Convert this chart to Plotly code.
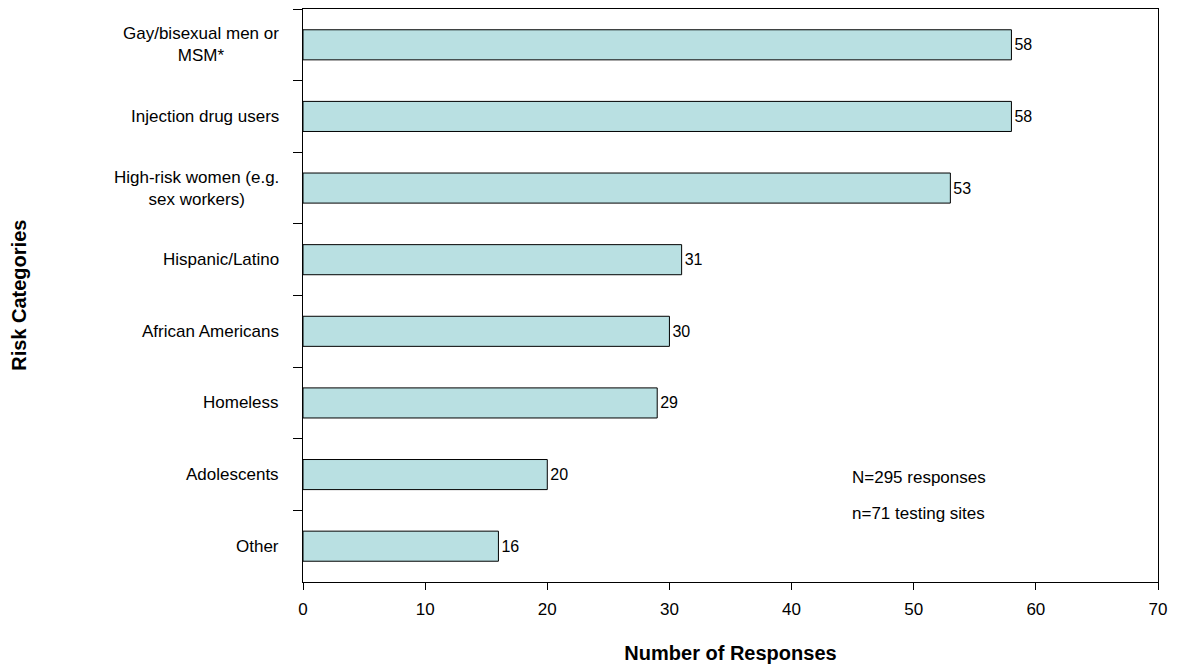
import plotly.graph_objects as go

categories = ["Gay/bisexual men or<br>MSM*", "Injection drug users", "High-risk women (e.g.<br>sex workers)",
              "Hispanic/Latino", "African Americans", "Homeless", "Adolescents", "Other"]
cat_keys = ["Gay/bisexual men or MSM*", "Injection drug users", "High-risk women (e.g. sex workers)",
            "Hispanic/Latino", "African Americans", "Homeless", "Adolescents", "Other"]
values = [58, 58, 53, 31, 30, 29, 20, 16]
x_ticks = [0, 10, 20, 30, 40, 50, 60, 70]
notes = ["N=295 responses", "n=71 testing sites"]

FONT = "Liberation Sans, Arial, sans-serif"

fig = go.Figure()
fig.add_trace(go.Bar(
    y=cat_keys, x=values, orientation="h",
    marker=dict(color="#B9E0E2", line=dict(color="black", width=1)),
    text=[str(v) for v in values], textposition="outside",
    textfont=dict(family=FONT, size=16, color="black"),
    cliponaxis=False, showlegend=False,
))

for key, lab in zip(cat_keys, categories):
    fig.add_annotation(x=-0.026, xref="paper", y=key, yref="y", text=lab,
                       showarrow=False, xanchor="right", yanchor="middle", align="center",
                       font=dict(family=FONT, size=17, color="black"))

fig.add_annotation(x=0.72, xref="paper", y=6.04, yref="y", text=notes[0], showarrow=False,
                   xanchor="center", yanchor="middle", font=dict(family=FONT, size=17, color="black"))
fig.add_annotation(x=0.72, xref="paper", y=6.54, yref="y", text=notes[1], showarrow=False,
                   xanchor="center", yanchor="middle", font=dict(family=FONT, size=17, color="black"))

# y-axis title drawn as a rotated annotation
fig.add_annotation(x=-0.333, xref="paper", y=0.5, yref="paper", text="<b>Risk Categories</b>",
                   textangle=-90, showarrow=False, xanchor="center", yanchor="middle",
                   font=dict(family=FONT, size=20, color="black"))

fig.update_layout(
    width=1167, height=656,
    margin=dict(l=295, r=17, t=1, b=82, autoexpand=False),
    paper_bgcolor="white", plot_bgcolor="white",
    bargap=0.58,
    font=dict(family=FONT, size=17, color="black"),
    xaxis=dict(range=[0, 70], tickvals=x_ticks, ticks="outside", ticklen=7, tickcolor="black",
               ticklabelstandoff=5, automargin=False,
               showline=True, linecolor="black", linewidth=1, mirror=True, showgrid=False, zeroline=False,
               tickfont=dict(family=FONT, size=17),
               title=dict(text="<b>Number of Responses</b>", font=dict(family=FONT, size=20), standoff=42)),
    yaxis=dict(categoryorder="array", categoryarray=cat_keys, autorange="reversed", automargin=False,
               tickson="boundaries", ticks="outside", ticklen=9, tickcolor="black", showticklabels=False,
               showline=True, linecolor="black", linewidth=1, mirror=True, showgrid=False),
)

fig.write_html("out.html")
